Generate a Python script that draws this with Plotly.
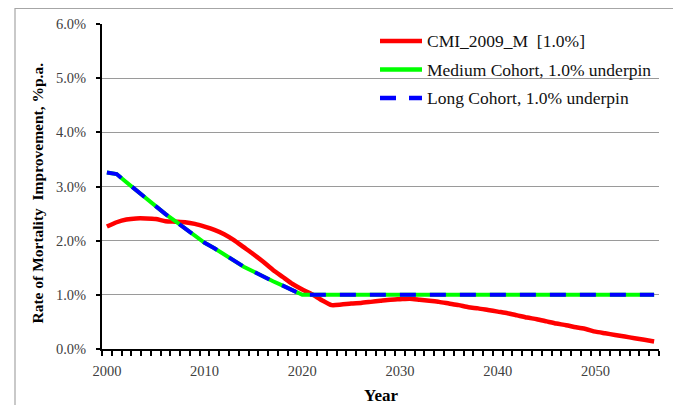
import plotly.graph_objects as go

# Projection years
years = list(range(2000, 2057))

# Annual rate of mortality improvement, % p.a.
cmi_2009_m = [
    2.26, 2.34, 2.39, 2.41, 2.41, 2.40, 2.36, 2.35, 2.34, 2.31,
    2.26, 2.20, 2.12, 2.01, 1.88, 1.75, 1.61, 1.46, 1.33, 1.20,
    1.10, 1.01, 0.90, 0.81, 0.82, 0.84, 0.85, 0.87, 0.89, 0.91,
    0.92, 0.93, 0.91, 0.89, 0.87, 0.84, 0.81, 0.77, 0.75, 0.72,
    0.69, 0.66, 0.62, 0.58, 0.55, 0.51, 0.47, 0.44, 0.40, 0.37,
    0.32, 0.29, 0.26, 0.23, 0.20, 0.17, 0.14,
]
cohort_start = [
    3.26, 3.23, 3.08, 2.93, 2.78, 2.64, 2.49, 2.36, 2.22, 2.08,
    1.96, 1.86, 1.74, 1.63, 1.52, 1.43, 1.33, 1.25, 1.17, 1.09,
]
underpin = 1.0
medium_cohort = cohort_start + [underpin] * (len(years) - len(cohort_start))
long_cohort = list(medium_cohort)

series_names = [
    "CMI_2009_M\u00a0\u00a0[1.0%]",
    "Medium Cohort, 1.0% underpin",
    "Long Cohort, 1.0% underpin",
]
series_colors = ["#ff0000", "#00ff00", "#0000ff"]
series_dash = ["solid", "solid", "16px,14px"]
series_shape = ["spline", "linear", "linear"]

x_tick_years = [2000, 2010, 2020, 2030, 2040, 2050]
y_ticks = [0, 1, 2, 3, 4, 5, 6]

SERIF = "Liberation Serif, Times New Roman, serif"

fig = go.Figure()
for name, vals, color, dash, shape in zip(series_names,
                                          [cmi_2009_m, medium_cohort, long_cohort],
                                          series_colors, series_dash, series_shape):
    fig.add_trace(go.Scatter(
        x=years, y=vals, mode="lines", name=name,
        line=dict(color=color, width=4.5 if color == "#ff0000" else 4, dash=dash,
                  shape=shape, smoothing=0.6),
        showlegend=False,
    ))

W, H = 673, 405
L, R, T, B = 102, 14, 24, 56
pw, ph = W - L - R, H - T - B


def px_x(p):
    return (p - L) / pw


def px_y(p):
    return (H - B - p) / ph


# Hand-built legend: sample line + label for each series
legend_rows = [41, 69.5, 98]
for name, color, dash, yy in zip(series_names, series_colors, series_dash, legend_rows):
    fig.add_shape(type="line", xref="paper", yref="paper",
                  x0=px_x(380), x1=px_x(422), y0=px_y(yy), y1=px_y(yy),
                  line=dict(color=color, width=4.5, dash="16px,13px" if dash != "solid" else "solid"))
    fig.add_annotation(xref="paper", yref="paper", x=px_x(425), y=px_y(yy),
                       xanchor="left", yanchor="middle", showarrow=False,
                       text=name, font=dict(family=SERIF, size=17.5, color="#111111"))

# Axis titles
fig.add_annotation(xref="paper", yref="paper", x=px_x(381), y=px_y(395),
                   xanchor="center", yanchor="middle", showarrow=False,
                   text="<b>Year</b>", font=dict(family=SERIF, size=17, color="#000000"))
fig.add_annotation(xref="paper", yref="paper", x=px_x(37), y=px_y(193.5),
                   xanchor="center", yanchor="middle", showarrow=False, textangle=-90,
                   text="<b>Rate of Mortality\u00a0\u00a0Improvement, %p.a.</b>",
                   font=dict(family=SERIF, size=15.5, color="#000000"))

# Outer chart frame
fig.add_shape(type="rect", xref="paper", yref="paper",
              x0=px_x(15), x1=px_x(700), y0=px_y(430), y1=px_y(8.5),
              line=dict(color="#a6a6a6", width=1.2), layer="below")

fig.update_layout(
    width=W, height=H,
    margin=dict(l=L, r=R, t=T, b=B, pad=0),
    paper_bgcolor="white", plot_bgcolor="white",
    showlegend=False,
    font=dict(family=SERIF),
)
fig.update_xaxes(
    range=[1999.5, 2056.5], tickmode="array", tickvals=x_tick_years,
    ticktext=[str(v) for v in x_tick_years],
    ticks="", showgrid=False, zeroline=False,
    showline=True, linecolor="#000000", linewidth=2,
    tickfont=dict(family=SERIF, size=14.5, color="#404040"),
    ticklabelstandoff=8,
    minor=dict(ticks="outside", tick0=1999.5, dtick=1, ticklen=5,
               tickwidth=2, tickcolor="#000000", showgrid=False),
)
fig.update_yaxes(
    range=[0, 6], tickmode="array", tickvals=y_ticks,
    ticktext=[f"{v:.1f}%" for v in y_ticks],
    ticks="outside", ticklen=4, tickwidth=2, tickcolor="#000000",
    showgrid=True, gridcolor="#9a9a9a", gridwidth=1.2, zeroline=False,
    showline=True, linecolor="#000000", linewidth=2,
    tickfont=dict(family=SERIF, size=14.5, color="#404040"),
    ticklabelstandoff=7,
)

fig.write_html("out.html")
